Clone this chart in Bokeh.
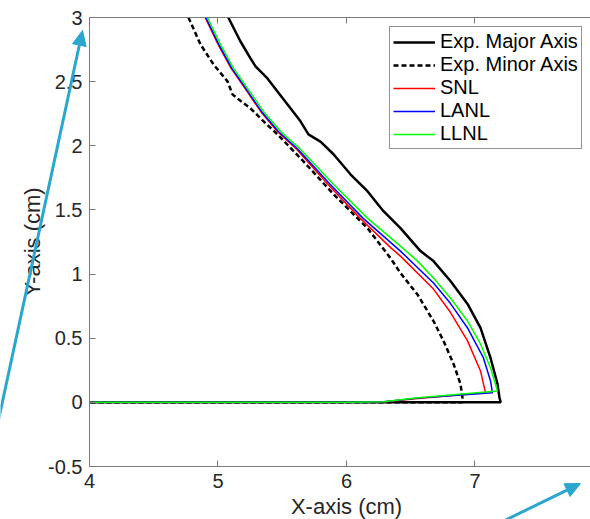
from bokeh.plotting import figure
from bokeh.models import Range1d, LinearAxis, FixedTicker, CustomLabelingPolicy
from bokeh.core.properties import value
from bokeh.embed import file_html
from bokeh.resources import INLINE

# ---- data ----
major_x = [5.08, 5.175, 5.253, 5.292, 5.385, 5.463, 5.564, 5.642, 5.704, 5.80, 5.899, 6.031,
           6.163, 6.288, 6.420, 6.576, 6.677, 6.809, 6.942, 7.043, 7.121, 7.175, 7.19, 7.20, 4.0]
major_y = [3.0, 2.813, 2.681, 2.619, 2.525, 2.424, 2.292, 2.191, 2.089, 2.03, 1.934, 1.778,
           1.646, 1.490, 1.358, 1.179, 1.101, 0.946, 0.767, 0.580, 0.346, 0.144, 0.04, 0.0, 0.0]

minor_x = [4.77, 4.864, 4.965, 5.074, 5.113, 5.160, 5.253, 5.354, 5.463, 5.665, 5.899, 6.163,
           6.342, 6.420, 6.553, 6.677, 6.755, 6.833, 6.887, 6.903, 6.905, 4.0]
minor_y = [3.0, 2.790, 2.634, 2.502, 2.401, 2.362, 2.292, 2.191, 2.089, 1.879, 1.623, 1.358,
           1.125, 1.008, 0.84, 0.634, 0.479, 0.300, 0.144, 0.035, 0.0, 0.0]

snl_x = [4.90, 5.0, 5.102, 5.21, 5.332, 5.46, 5.612, 5.855, 6.105, 6.35, 6.420, 6.677, 6.81,
         6.942, 7.043, 7.082, 6.553, 6.288, 6.0, 4.0]
snl_y = [3.0, 2.790, 2.603, 2.447, 2.268, 2.113, 1.973, 1.700, 1.436, 1.20, 1.140, 0.883, 0.70,
         0.479, 0.245, 0.074, 0.03, 0.003, 0.0, 0.0]

lanl_x = [4.905, 5.006, 5.108, 5.216, 5.338, 5.468, 5.622, 5.872, 6.128, 6.420, 6.677, 6.81,
          6.942, 7.066, 7.121, 7.136, 6.553, 6.288, 6.0, 4.0]
lanl_y = [3.0, 2.790, 2.603, 2.447, 2.268, 2.113, 1.973, 1.700, 1.436, 1.179, 0.930, 0.77,
          0.580, 0.346, 0.167, 0.074, 0.033, 0.004, 0.0, 0.0]

llnl_x = [4.918, 5.019, 5.121, 5.230, 5.354, 5.486, 5.642, 5.899, 6.163, 6.420, 6.553, 6.677,
          6.809, 6.942, 7.043, 7.121, 7.175, 6.553, 6.288, 6.0, 4.0]
llnl_y = [3.0, 2.790, 2.603, 2.447, 2.268, 2.113, 1.973, 1.700, 1.436, 1.218, 1.101, 0.969,
          0.813, 0.634, 0.455, 0.268, 0.089, 0.035, 0.004, 0.0, 0.0]

x_ticks = [4, 5, 6, 7, 8]
x_tick_labels = ["4", "5", "6", "7", "8"]
y_ticks = [-0.5, 0, 0.5, 1, 1.5, 2, 2.5, 3]
y_tick_labels = ["-0.5", "0", "0.5", "1", "1.5", "2", "2.5", "3"]
x_title = "X-axis (cm)"
y_title = "Y-axis (cm)"

# blue annotation arrows, in page pixels (overlay layer)
arrow1_shaft_x = [-20.0, 78.8]
arrow1_shaft_y = [503.0, 44.7]
arrow1_head_x = [82.0, 85.7, 72.0]
arrow1_head_y = [30.0, 46.1, 43.2]
arrow2_shaft_x = [500.0, 566.5]
arrow2_shaft_y = [522.0, 489.6]
arrow2_head_x = [580.0, 569.6, 563.5]
arrow2_head_y = [483.0, 495.9, 483.3]
x_title_pos = (346.0, 506.0)   # page pixels: centre of the 4..8 frame, text middle

FONT = "Liberation Sans"
TXT = "#262626"
AX = "#7a7a7a"
W, H = 590, 519

p = figure(width=W, height=H, x_range=Range1d(4, 7.899), y_range=Range1d(-0.5, 3),
           output_backend="svg", toolbar_location=None,
           min_border_left=89, min_border_right=0, min_border_top=16, min_border_bottom=53)
p.outline_line_color = None
p.grid.visible = False
p.background_fill_color = "white"
p.border_fill_color = "white"

for ax, ticks, labels, so in ((p.xaxis[0], x_ticks, x_tick_labels, 7),
                              (p.yaxis[0], y_ticks, y_tick_labels, 7)):
    ax.ticker = FixedTicker(ticks=ticks)
    ax.major_label_overrides = {t: l for t, l in zip(ticks, labels)}
    ax.major_tick_in = 6
    ax.major_tick_out = 0
    ax.minor_tick_line_color = None
    ax.axis_line_color = AX
    ax.major_tick_line_color = AX
    ax.major_label_text_font = FONT
    ax.major_label_text_font_size = "20px"
    ax.major_label_text_color = TXT
    ax.major_label_standoff = so
    ax.axis_label_text_font = FONT
    ax.axis_label_text_font_size = "22px"
    ax.axis_label_text_font_style = "normal"
    ax.axis_label_text_color = TXT
    ax.axis_label_standoff = 0

p.yaxis.axis_label = y_title

no_labels = CustomLabelingPolicy(code="""
const all = [...indices]
for (const i of all) { indices.unset(i) }
return indices
""")
top = LinearAxis(ticker=FixedTicker(ticks=x_ticks), major_tick_in=6, major_tick_out=0,
                 minor_tick_line_color=None, axis_line_color=AX, major_tick_line_color=AX,
                 major_label_policy=no_labels, major_label_standoff=0,
                 major_label_text_font_size="20px")
p.add_layout(top, "above")

p.line(major_x, major_y, line_color="black", line_width=2.5, legend_label="Exp. Major Axis")
p.line(minor_x, minor_y, line_color="black", line_width=2.5, line_dash="5 3", legend_label="Exp. Minor Axis")
p.line(snl_x, snl_y, line_color="#ff0000", line_width=1.5, legend_label="SNL")
p.line(lanl_x, lanl_y, line_color="#0000ff", line_width=1.5, legend_label="LANL")
p.line(llnl_x, llnl_y, line_color="#00ff00", line_width=1.5, legend_label="LLNL")

lg = p.legend[0]
lg.location = (300, 317)
lg.label_text_font = FONT
lg.label_text_font_size = "20px"
lg.label_text_line_height = 1.0
lg.label_text_color = "black"
lg.padding = 3
lg.spacing = 0
lg.margin = 0
lg.glyph_width = 42
lg.glyph_height = 22
lg.label_height = 22
lg.label_standoff = 5
lg.border_line_color = TXT
lg.border_line_width = 1
lg.background_fill_alpha = 1.0

# transparent overlay (separate root) for the items that lie outside the cropped plot frame
ov = figure(width=W, height=H, x_range=Range1d(0, W), y_range=Range1d(H, 0),
            x_axis_type=None, y_axis_type=None, output_backend="svg", toolbar_location=None,
            min_border=0, outline_line_color=None,
            styles={"position": "absolute", "left": "0px", "top": "0px"})
ov.grid.visible = False
ov.background_fill_alpha = 0
ov.border_fill_alpha = 0
ARC = "#2aa6cf"
for sx, sy, hx, hy in ((arrow1_shaft_x, arrow1_shaft_y, arrow1_head_x, arrow1_head_y),
                       (arrow2_shaft_x, arrow2_shaft_y, arrow2_head_x, arrow2_head_y)):
    ov.line(sx, sy, line_color=ARC, line_width=3)
    ov.patch(hx, hy, fill_color=ARC, line_color=ARC, line_width=1)
ov.text(x=[x_title_pos[0]], y=[x_title_pos[1]], text=[x_title], text_align="center",
        text_baseline="middle", text_font=value(FONT), text_font_size="22px", text_color=TXT)

open("out.html", "w").write(file_html([p, ov], INLINE))
